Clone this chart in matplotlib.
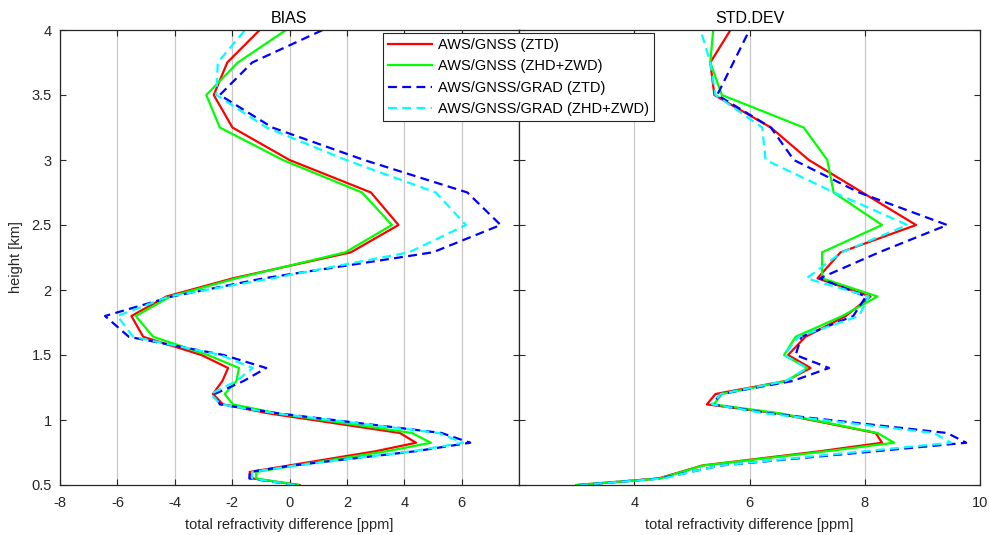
import matplotlib
matplotlib.use("Agg")
import matplotlib.pyplot as plt
from matplotlib.ticker import FormatStrFormatter

plt.rcParams['font.family'] = ['Liberation Sans', 'DejaVu Sans']
plt.rcParams['axes.unicode_minus'] = False

# height levels [km]
heights = [0.5, 0.55, 0.6, 0.65, 0.76, 0.825, 0.9, 1.05, 1.12, 1.2, 1.3, 1.4, 1.5,
           1.64, 1.8, 1.95, 2.09, 2.29, 2.5, 2.75, 3.0, 3.25, 3.5, 3.75, 4.0]

# BIAS [ppm]
bias_ztd = [0.35, -1.28, -1.39, -0.02, 3.01, 4.41, 3.85, -0.7, -2.32, -2.67, -2.34, -2.14, -3.07,
            -5.1, -5.51, -4.29, -1.97, 2.14, 3.80, 2.84, 0.0, -1.99, -2.64, -2.17, -1.04]
bias_zhd = [0.3, -1.16, -1.16, 0.22, 3.4, 4.93, 4.27, -0.4, -1.97, -2.26, -1.85, -1.76, -2.85,
            -4.75, -5.36, -4.15, -1.85, 1.95, 3.57, 2.53, -0.23, -2.43, -2.9, -1.8, -0.12]
bias_grad_ztd = [0.2, -1.4, -1.39, 0.1, 4.4, 6.3, 5.3, -0.35, -2.43, -2.61, -1.6, -0.81, -2.3,
                 -5.6, -6.43, -4.1, -0.9, 5.0, 7.36, 6.2, 2.6, -0.6, -2.43, -1.3, 1.16]
bias_grad_zhd = [0.2, -1.3, -1.3, 0.2, 4.3, 6.05, 5.2, -0.45, -2.4, -2.75, -1.85, -1.28, -2.4,
                 -5.45, -6.0, -4.2, -0.6, 4.17, 6.15, 5.1, 1.97, -0.8, -2.55, -2.5, -1.55]

# STD.DEV [ppm]
std_ztd = [3.0, 4.42, 4.8, 5.18, 7.23, 8.3, 8.19, 6.5, 5.26, 5.41, 6.63, 7.06, 6.67,
           6.97, 7.67, 8.1, 7.18, 7.58, 8.89, 7.96, 7.03, 6.37, 5.39, 5.32, 5.67]
std_zhd = [3.0, 4.45, 4.82, 5.2, 7.35, 8.51, 8.22, 6.55, 5.38, 5.52, 6.65, 7.0, 6.6,
           6.8, 7.61, 8.22, 7.26, 7.26, 8.3, 7.46, 7.35, 6.94, 5.52, 5.32, 5.37]
std_grad_ztd = [3.05, 4.45, 4.97, 5.5, 8.2, 9.76, 9.43, 6.37, 5.35, 5.5, 6.75, 7.38, 6.8,
                6.9, 7.8, 8.02, 7.22, 8.25, 9.43, 7.9, 6.77, 6.37, 5.44, 5.72, 6.0]
std_grad_zhd = [3.05, 4.5, 4.97, 5.5, 8.0, 9.5, 9.2, 6.3, 5.35, 5.5, 6.63, 7.0, 6.6,
                6.85, 7.9, 8.07, 6.99, 7.6, 8.74, 7.47, 6.28, 6.22, 5.41, 5.32, 5.15]

labels = ['AWS/GNSS (ZTD)', 'AWS/GNSS (ZHD+ZWD)', 'AWS/GNSS/GRAD (ZTD)', 'AWS/GNSS/GRAD (ZHD+ZWD)']
colors = ['#ff0000', '#00ff00', '#0000ff', '#00ffff']
styles = ['-', '-', '--', '--']

axcol = '#262626'

fig = plt.figure(figsize=(9.89, 5.35), dpi=100)
ax1 = fig.add_axes([60 / 989, 50 / 535, 459 / 989, 455 / 535])
ax2 = fig.add_axes([519 / 989, 50 / 535, 461 / 989, 455 / 535])

panels = [
    (ax1, [bias_ztd, bias_zhd, bias_grad_ztd, bias_grad_zhd], 'BIAS', (-8, 8), range(-8, 7, 2)),
    (ax2, [std_ztd, std_zhd, std_grad_ztd, std_grad_zhd], 'STD.DEV', (2, 10), [4, 6, 8, 10]),
]

handles = []
for ax, series, title, xl, xt in panels:
    ax.grid(True, axis='x', color='#c8c8c8', linewidth=0.9)
    ax.set_axisbelow(True)
    hs = []
    for vals, c, ls in zip(series, colors, styles):
        line, = ax.plot(vals, heights, color=c, linestyle=ls, linewidth=1.6)
        if ls == '--':
            line.set_dashes((4, 2.4))
        hs.append(line)
    handles = hs
    ax.set_xlim(*xl)
    ax.set_ylim(0.5, 4)
    ax.set_xticks(list(xt))
    ax.set_yticks([0.5, 1, 1.5, 2, 2.5, 3, 3.5, 4])
    ax.yaxis.set_major_formatter(FormatStrFormatter('%g'))
    ax.tick_params(direction='in', top=True, right=True, length=4, width=0.8,
                   colors=axcol, labelsize=10.5, pad=6)
    ax.tick_params(axis='x', pad=8)
    for s in ax.spines.values():
        s.set_color(axcol)
        s.set_linewidth(0.9)
    ax.set_title(title, fontsize=11.5, color='black', pad=5)
    ax.set_xlabel('total refractivity difference [ppm]', fontsize=10.5, color=axcol, labelpad=6)

ax1.set_ylabel('height [km]', fontsize=10.5, color=axcol, labelpad=6)
ax2.tick_params(labelleft=False)

leg = fig.legend(handles, labels, loc='upper left', bbox_to_anchor=(383 / 989, 1 - 33 / 535),
                 fontsize=10.5, frameon=True, fancybox=False, framealpha=1,
                 edgecolor=axcol, handlelength=3.0, handletextpad=0.4,
                 labelspacing=0.5, borderpad=0.35, borderaxespad=0)
leg.get_frame().set_linewidth(0.8)

fig.savefig('out.png', dpi=100)
